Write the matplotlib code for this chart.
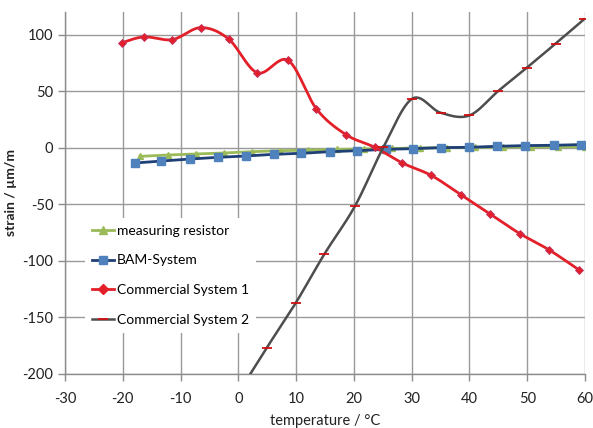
import numpy as np
import matplotlib
matplotlib.use("Agg")
import matplotlib.pyplot as plt

# valores (temperatura em °C, deformação em µm/m)
temp_resistor = [-17.0, -12.1, -7.3, -2.5, 2.3, 7.2, 12.0, 17.0, 21.8, 26.6, 31.4, 36.2, 41.0, 45.8, 50.6, 55.4, 60.0]
strain_resistor = [-7.7, -6.5, -5.6, -4.7, -3.6, -2.7, -2.2, -1.6, -1.1, -0.7, -0.3, 0.0, 0.2, 0.4, 0.6, 0.7, 0.8]

temp_bam = [-17.9, -13.4, -8.4, -3.6, 1.3, 6.2, 10.9, 15.8, 20.6, 25.5, 30.2, 35.1, 40.0, 44.8, 49.7, 54.6, 59.3]
strain_bam = [-13.6, -11.9, -10.1, -8.6, -7.4, -5.9, -5.0, -3.6, -2.7, -1.5, -0.9, 0.0, 0.3, 1.2, 1.8, 2.1, 2.7]

temp_cs1 = [-20.1, -16.3, -11.4, -6.5, -1.7, 3.3, 8.6, 13.5, 18.6, 23.6, 28.4, 33.4, 38.5, 43.6, 48.7, 53.8, 59.0]
strain_cs1 = [92.9, 98.0, 95.6, 106.2, 96.2, 66.2, 77.2, 34.4, 11.6, 0.3, -13.6, -24.6, -41.6, -58.8, -76.0, -90.5, -108.3]

temp_cs2 = [0.0, 4.9, 9.9, 14.9, 20.2, 25.1, 30.1, 35.0, 40.0, 45.0, 49.9, 54.9, 59.8]
strain_cs2 = [-217.0, -177.2, -137.7, -94.1, -51.6, 0.3, 43.3, 30.9, 28.5, 50.2, 70.6, 92.0, 113.4]

x_ticks = [-30, -20, -10, 0, 10, 20, 30, 40, 50, 60]
y_ticks = [-200, -150, -100, -50, 0, 50, 100]


def suavizar(x, y, n=30):
    """Curva suavizada tipo Excel (Catmull-Rom) entre os pontos."""
    x = np.asarray(x, float)
    y = np.asarray(y, float)
    p = np.column_stack([x, y])
    p = np.vstack([p[0], p, p[-1]])
    xs, ys = [], []
    t = np.linspace(0, 1, n)
    for i in range(1, len(p) - 2):
        p0, p1, p2, p3 = p[i - 1], p[i], p[i + 1], p[i + 2]
        c1 = p1 + (p2 - p0) / 6
        c2 = p2 - (p3 - p1) / 6
        b = ((1 - t) ** 3)[:, None] * p1 + (3 * (1 - t) ** 2 * t)[:, None] * c1 \
            + (3 * (1 - t) * t ** 2)[:, None] * c2 + (t ** 3)[:, None] * p2
        xs.extend(b[:, 0])
        ys.extend(b[:, 1])
    return xs, ys


plt.rcParams['font.family'] = ['Lato', 'DejaVu Sans']
plt.rcParams['axes.unicode_minus'] = False

fig = plt.figure(figsize=(5.93, 4.28), dpi=100)
ax = fig.add_axes([65 / 593, 1 - 373.7 / 428, 520 / 593, 361.7 / 428])

cor_verde = '#9BBB59'
cor_azul_linha = '#1F3F77'
cor_azul_marc = '#4F81BD'
cor_vermelho = '#E3202A'
cor_cinza = '#4D4D4D'
cor_traco = '#D01010'

ax.plot(temp_resistor, strain_resistor, color=cor_verde, lw=2, zorder=3)
ax.plot(temp_resistor, strain_resistor, ls='none', marker='^', ms=5,
        color=cor_verde, zorder=3)

ax.plot(temp_bam, strain_bam, color=cor_azul_linha, lw=2, zorder=4)
ax.plot(temp_bam, strain_bam, ls='none', marker='s', ms=6,
        color=cor_azul_marc, zorder=4)

sx, sy = suavizar(temp_cs1, strain_cs1)
ax.plot(sx, sy, color=cor_vermelho, lw=2, zorder=5)
ax.plot(temp_cs1, strain_cs1, ls='none', marker='D', ms=4.5,
        color=cor_vermelho, markeredgecolor='#C03060', mew=0.6, zorder=5)

gx, gy = suavizar(temp_cs2, strain_cs2)
ax.plot(gx, gy, color=cor_cinza, lw=1.8, zorder=6)
ax.plot(temp_cs2, strain_cs2, ls='none', marker='_', ms=6.5, mew=1.3,
        color=cor_traco, zorder=6)

# entradas da legenda
ax.plot([], [], color=cor_verde, lw=2, marker='^', ms=5.5, label='measuring resistor')
ax.plot([], [], color=cor_azul_linha, lw=2, marker='s', ms=6,
        markerfacecolor=cor_azul_marc, markeredgecolor=cor_azul_marc, label='BAM-System')
ax.plot([], [], color=cor_vermelho, lw=2, marker='D', ms=5, label='Commercial System 1')
ax.plot([], [], color=cor_cinza, lw=1.8, marker='_', ms=6.5, mew=1.3,
        markeredgecolor=cor_traco, label='Commercial System 2')

ax.set_xlim(-30, 60)
ax.set_ylim(-200, 120)
ax.set_xticks(x_ticks)
ax.set_yticks(y_ticks)
ax.grid(True, color='#9A9A9A', lw=1)
ax.set_axisbelow(True)

for lado in ['top', 'right']:
    ax.spines[lado].set_visible(False)
for lado in ['left', 'bottom']:
    ax.spines[lado].set_color('#8C8C8C')
    ax.spines[lado].set_linewidth(1)
ax.tick_params(colors='#8C8C8C', labelcolor='#222222', labelsize=10.5,
               length=5, width=1, direction='out')
ax.tick_params(axis='x', pad=8)

ax.set_xlabel('temperature / °C', fontsize=10.5, color='#222222', labelpad=6)
ax.set_ylabel('strain / µm/m', fontsize=10, fontweight='bold', color='#222222', labelpad=4)

leg = ax.legend(loc='upper left', bbox_to_anchor=(0.025, 0.45), fontsize=10,
                frameon=True, facecolor='white', edgecolor='none', framealpha=1,
                fancybox=False, labelspacing=1.27, handlelength=1.6,
                handletextpad=0.2, borderpad=0.5)
leg.set_zorder(10)

fig.savefig('out.png', dpi=100)
